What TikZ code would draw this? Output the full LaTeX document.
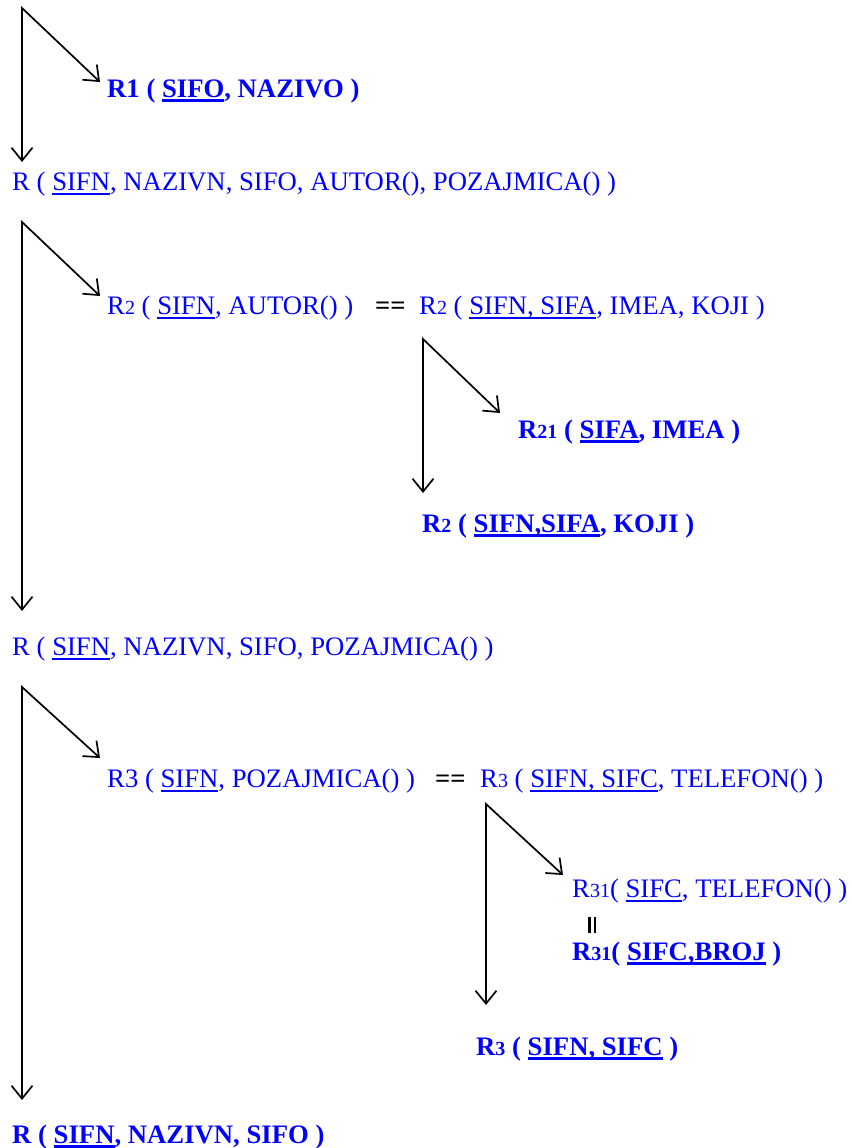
\documentclass[tikz,border=0pt]{standalone}
\usepackage{fontspec}
\setmainfont{Liberation Serif}
\usetikzlibrary{arrows.meta}
\definecolor{relblue}{RGB}{0,0,255}
% key attributes: underlined with a rule under the baseline
\newsavebox\ulbox
\newcommand\keyul[2][1.9pt]{\sbox\ulbox{#2}\rlap{\rule[-4.6pt]{\wd\ulbox}{#1}}\usebox\ulbox}
% smaller relation index digits
\newcommand\idx[1]{{\fontsize{20}{20}\selectfont #1}}

\begin{document}
\begin{tikzpicture}[x=1pt,y=-1pt,
  rel/.style={anchor=base west, inner sep=0pt, text=relblue,
    font=\fontsize{26.7}{30}\selectfont},
  relb/.style={rel, font=\fontsize{26.7}{30}\selectfont\bfseries},
  eqsign/.style={anchor=base west, inner sep=0pt, text=black,
    font=\fontsize{26.7}{30}\selectfont\bfseries},
  split/.style={draw=black, line width=1.7pt, line join=miter,
    {Straight Barb[length=13pt,width=21pt]}-{Straight Barb[length=13pt,width=21pt]}}
]
\useasboundingbox (0,0) rectangle (851,1148);

% R -> R1 + R
\coordinate (a1) at (22,8);
\coordinate (a1v) at (22,162);
\coordinate (a1d) at (100,82);
\node[relb] (r1) at (107,97) {R1 ( \keyul[2.6pt]{SIFO}, NAZIVO )};
\node[rel] (r0) at (12,190) {R ( \keyul{SIFN}, NAZIVN, SIFO, AUTOR(), POZAJMICA() )};
\draw[split] (a1v) -- (a1) -- (a1d);

% R -> R2 + R
\coordinate (a2) at (22,222);
\coordinate (a2v) at (22,611);
\coordinate (a2d) at (100,296);
\node[rel] (r2l) at (107,314) {R\idx{2} ( \keyul{SIFN}, AUTOR() )};
\node[eqsign] (eq2) at (375,314) {==};
\node[rel] (r2r) at (419,314) {R\idx{2} ( \keyul{SIFN, SIFA}, IMEA, KOJI )};
\draw[split] (a2v) -- (a2) -- (a2d);

% R2 -> R21 + R2
\coordinate (a3) at (423,339);
\coordinate (a3v) at (423,493);
\coordinate (a3d) at (500,413);
\node[relb] (r21) at (518,438) {R\idx{21} ( \keyul[2.6pt]{SIFA}, IMEA )};
\node[relb] (r2b) at (422,532) {R\idx{2} ( \keyul[2.6pt]{SIFN,SIFA}, KOJI )};
\draw[split] (a3v) -- (a3) -- (a3d);

\node[rel] (rr) at (12,655) {R ( \keyul{SIFN}, NAZIVN, SIFO, POZAJMICA() )};

% R -> R3 + R
\coordinate (a4) at (22,687);
\coordinate (a4v) at (22,1100);
\coordinate (a4d) at (100,758);
\node[rel] (r3l) at (107,787) {R3 ( \keyul{SIFN}, POZAJMICA() )};
\node[eqsign] (eq3) at (435,787) {==};
\node[rel] (r3r) at (480,787) {R\idx{3} ( \keyul{SIFN, SIFC}, TELEFON() )};
\draw[split] (a4v) -- (a4) -- (a4d);

% R3 -> R31 + R3
\coordinate (a5) at (486,804);
\coordinate (a5v) at (486,1005);
\coordinate (a5d) at (563,875);
\node[rel] (r31) at (572,897) {R\idx{31}( \keyul{SIFC}, TELEFON() )};
\node[inner sep=0pt, text=black] (par) at (592,925) {\rule{2.2pt}{16pt}\hspace{3pt}\rule{2.2pt}{16pt}};
\node[relb] (r31b) at (572,960) {R\idx{31}( \keyul[2.6pt]{SIFC,BROJ} )};
\node[relb] (r3b) at (476,1055) {R\idx{3} ( \keyul[2.6pt]{SIFN, SIFC} )};
\draw[split] (a5v) -- (a5) -- (a5d);

\node[relb] (rb) at (12,1143) {R ( \keyul[2.6pt]{SIFN}, NAZIVN, SIFO )};
\end{tikzpicture}
\end{document}
